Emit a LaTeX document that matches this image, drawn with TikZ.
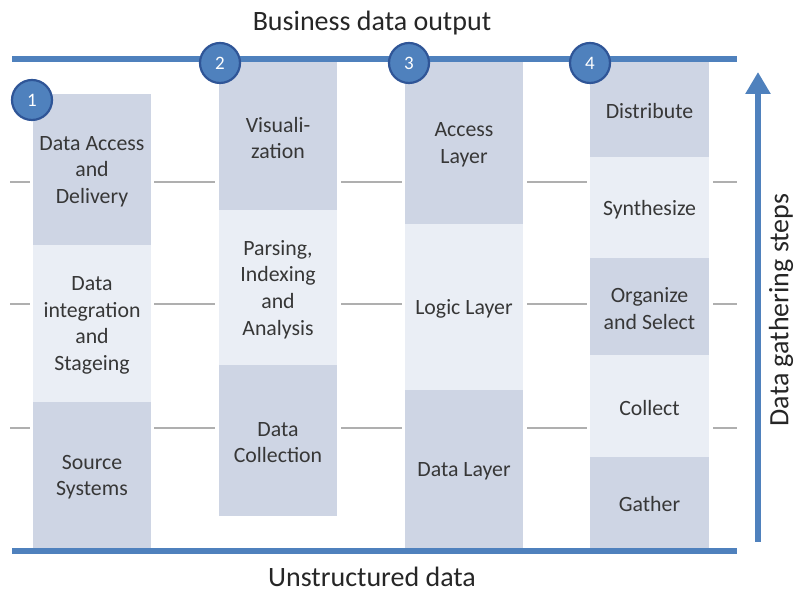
\documentclass[tikz,border=0pt]{standalone}
\usepackage{fontspec}
\setmainfont{Carlito}
\usetikzlibrary{fit,arrows.meta}
\definecolor{barblue}{RGB}{79,129,189}
\definecolor{ringblue}{RGB}{47,85,151}
\definecolor{boxdark}{RGB}{206,213,228}
\definecolor{boxlight}{RGB}{234,238,245}
\definecolor{rulegrey}{RGB}{175,175,175}
\definecolor{labeltext}{RGB}{55,55,55}
\begin{document}
\begin{tikzpicture}[x=0.5pt,y=-0.5pt,
  tier/.style={inner sep=0pt, draw=none},
  tierdark/.style={tier, fill=boxdark},
  tierlight/.style={tier, fill=boxlight},
  tiertext/.style={inner sep=0pt, align=center, text=labeltext,
    font=\fontsize{10.9}{13.3}\selectfont},
  bar/.style={barblue, line width=3pt},
  rule/.style={rulegrey, line width=0.75pt},
  badge/.style={circle, fill=barblue, draw=ringblue, line width=1.1pt,
    minimum size=20pt, inner sep=0pt, text=white,
    font=\fontsize{9.5}{9.5}\selectfont},
  heading/.style={font=\fontsize{14}{16}\selectfont, text=black!85}
]
\useasboundingbox (0,0) rectangle (794,592);

% thin horizontal guide rules between the columns
\foreach \y in {182,304,428}
  \foreach \a/\b in {10/30,154/215,341/402,527/587,713/737}
    \draw[rule] (\a,\y) -- (\b,\y);

% column 1
\node[tierdark,  fit={(33,94) (151,245)}]  (c1a) {};
\node[tierlight, fit={(33,245) (151,402)}] (c1b) {};
\node[tierdark,  fit={(33,402) (151,548)}] (c1c) {};

% column 2
\node[tierdark,  fit={(219,62) (337,210)}]  (c2a) {};
\node[tierlight, fit={(219,210) (337,365)}] (c2b) {};
\node[tierdark,  fit={(219,365) (337,516)}] (c2c) {};

% column 3
\node[tierdark,  fit={(405,62) (523,224)}]  (c3a) {};
\node[tierlight, fit={(405,224) (523,390)}] (c3b) {};
\node[tierdark,  fit={(405,390) (523,548)}] (c3c) {};

% column 4
\node[tierdark,  fit={(590,62) (709,157)}]  (c4a) {};
\node[tierlight, fit={(590,157) (709,258)}] (c4b) {};
\node[tierdark,  fit={(590,258) (709,355)}] (c4c) {};
\node[tierlight, fit={(590,355) (709,457)}] (c4d) {};
\node[tierdark,  fit={(590,457) (709,548)}] (c4e) {};

% tier captions, centred in each box
\foreach \tid/\txt in {
    c1a/{Data Access\\and\\Delivery},
    c1b/{Data\\integration\\and\\Stageing},
    c1c/{Source\\Systems},
    c2a/{Visuali-\\zation},
    c2b/{Parsing,\\Indexing\\and\\Analysis},
    c2c/{Data\\Collection},
    c3a/{Access\\Layer},
    c3b/{Logic Layer},
    c3c/{Data Layer},
    c4a/{Distribute},
    c4b/{Synthesize},
    c4c/{Organize\\and Select},
    c4d/{Collect},
    c4e/{Gather}}
  \node[tiertext] (\tid-t) at ([yshift=-1pt]\tid.center) {\txt};

% top and bottom bars
\coordinate (topL) at (12,59);
\coordinate (topR) at (737,59);
\coordinate (botL) at (12,551);
\coordinate (botR) at (737,551);
\draw[bar] (topL) -- (topR);
\draw[bar] (botL) -- (botR);

% numbered badges
\node[badge] (n1) at (32,100) {1};
\node[badge] (n2) at (220,63) {2};
\node[badge] (n3) at (409,63) {3};
\node[badge] (n4) at (590,63) {4};

% upward arrow for the gathering direction
\coordinate (arrS) at (758,542);
\coordinate (arrE) at (758,72);
\draw[barblue, line width=3pt, -{Triangle[width=12pt,length=11pt]}] (arrS) -- (arrE);

% headings
\node[heading] (title) at (372,23) {Business data output};
\node[heading] (base) at (372,577) {Unstructured data};
\node[heading, rotate=90] (steps) at (781,310) {Data gathering steps};
\end{tikzpicture}
\end{document}
